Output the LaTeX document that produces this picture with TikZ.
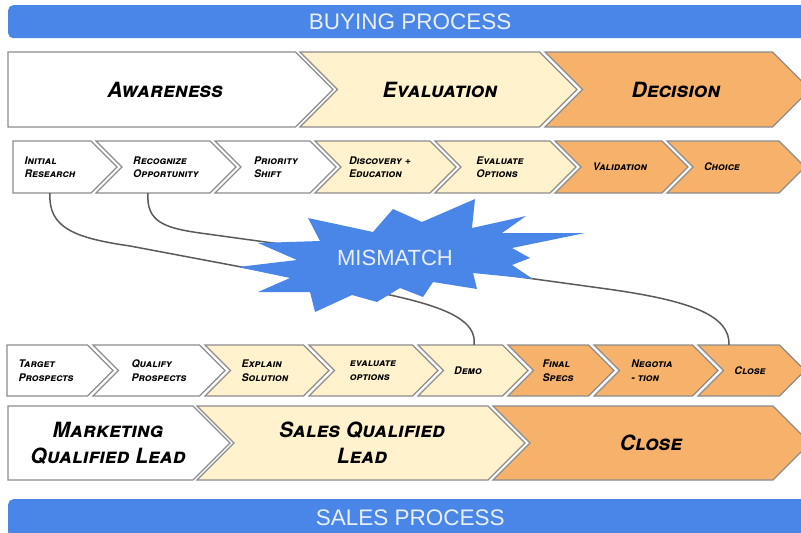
\documentclass[tikz,border=0pt]{standalone}
\usepackage{fontspec}
\setmainfont{Liberation Sans}
\newfontfamily\marker{TeX Gyre Heros}
\usetikzlibrary{calc}

\definecolor{bandblue}{HTML}{4A86E8}
\definecolor{cream}{HTML}{FFF2CC}
\definecolor{peach}{HTML}{F6B26B}
\definecolor{rim}{HTML}{8C8C8C}
\definecolor{wire}{HTML}{5A5A5A}

\begin{document}
\begin{tikzpicture}[x=1pt, y=-1pt,
    band/.style={fill=bandblue, rounded corners=5pt, text=white!88!bandblue,
                 font=\fontsize{22.5}{24}\selectfont, inner sep=0pt},
    chevron/.style={draw=rim, line width=1.2pt, line join=miter},
    stage/.style={font=\marker\bfseries\itshape\scshape\fontsize{21}{26}\selectfont,
                  align=center, inner sep=0pt},
    tag/.style={font=\marker\bfseries\itshape\scshape\fontsize{10.5}{13.5}\selectfont,
                align=left, inner sep=0pt},
    link/.style={draw=wire, line width=1.5pt}]
  \useasboundingbox (0,0) rectangle (801,533);
  \clip (0,0) rectangle (801,533);

  % --- blue headers, top and bottom ---
  \node[band, minimum width=804, minimum height=33, anchor=north west] (buy) at (8,5) {BUYING PROCESS};
  \node[band, minimum width=804, minimum height=38, anchor=north west] (sell) at (8,499) {SALES PROCESS};

  % --- buying stages (big row) ---
  \foreach \n/\f/\a/\b/\k/\x/\t in {aw/white/8/333/0/165/Awareness,
      ev/cream/300/577/1/440/Evaluation, dc/peach/545/810/1/676/Decision}{
    \filldraw[chevron, fill=\f] (\a,52) -- (\b-37.5,52) -- (\b,89.5) -- (\b-37.5,127)
        -- (\a,127) -- (\a+37.5*\k,89.5) -- cycle;
    \node[stage] (\n) at (\x,89.5) {\t};
  }

  % --- buying steps ---
  \foreach \n/\f/\a/\b/\k/\x/\t in {ir/white/13/117/0/50/{Initial\\Research},
      ro/white/96/236/1/166/{Recognize\\Opportunity}, ps/white/215/336/1/276/{Priority\\Shift},
      de/cream/315/456/1/380/{Discovery +\\Education}, eo/cream/435/576/1/500/{Evaluate\\Options},
      va/peach/555/688/1/620/Validation, ch/peach/667/805/1/722/Choice}{
    \filldraw[chevron, fill=\f] (\a,141) -- (\b-26,141) -- (\b,167) -- (\b-26,193)
        -- (\a,193) -- (\a+26*\k,167) -- cycle;
    \node[tag, minimum height=52] (\n) at (\x,167) {\t};
  }

  % --- sales steps ---
  \foreach \n/\f/\a/\b/\k/\x/\t in {tp/white/7/113/0/46/{Target\\Prospects},
      qp/white/93/225/1/159/{Qualify\\Prospects}, es/cream/205/329/1/265/{Explain\\Solution},
      vo/cream/309/438/1/373/{evaluate\\options}, dm/cream/418/528/1/468/Demo,
      fs/peach/508/614/1/558/{Final\\Specs}, ng/peach/594/718/1/652/{Negotia\\- tion},
      cls/peach/698/805/1/750/Close}{
    \filldraw[chevron, fill=\f] (\a,345) -- (\b-25.5,345) -- (\b,370.5) -- (\b-25.5,396)
        -- (\a,396) -- (\a+25.5*\k,370.5) -- cycle;
    \node[tag, minimum height=51] (\n) at (\x,370.5) {\t};
  }

  % --- sales stages (big row) ---
  \foreach \n/\f/\a/\b/\k/\x/\t in {mq/white/8/230/0/108/{Marketing\\Qualified Lead},
      sq/cream/197/525/1/362/{Sales Qualified\\Lead}, close/peach/493/810/1/651/Close}{
    \filldraw[chevron, fill=\f] (\a,406) -- (\b-37,406) -- (\b,443) -- (\b-37,480)
        -- (\a,480) -- (\a+37*\k,443) -- cycle;
    \node[stage] (\n) at (\x,443) {\t};
  }

  % --- the two links, running under the burst ---
  \draw[link] (ir.south) .. controls (48,228) and (75,238) .. (130,246)
      -- (390,295) .. controls (450,308) and (477,322) .. ($(dm.north)+(6,0)$);
  \draw[link] ($(ro.south)+(-18,0)$) .. controls (146,222) and (165,228) .. (200,233)
      -- (600,288) .. controls (690,300) and (730,315) .. ($(cls.north)+(-21,0)$);

  % --- burst ---
  \fill[bandblue] (238,267) -- (297,260) -- (258,243) -- (320,241) -- (308,218)
      -- (373,232) -- (393,209) -- (422,222) -- (475,199) -- (472,228) -- (526,216)
      -- (502,233) -- (585,233) -- (512,248) -- (530,258) -- (512,265) -- (533,279)
      -- (473,273) -- (477,289) -- (433,282) -- (423,297) -- (400,288) -- (377,302)
      -- (352,295) -- (315,312) -- (310,292) -- (258,292) -- (290,278) -- cycle;
  \node[font=\fontsize{22}{24}\selectfont, text=white!88!bandblue] (mm) at (395,258) {MISMATCH};
\end{tikzpicture}
\end{document}
